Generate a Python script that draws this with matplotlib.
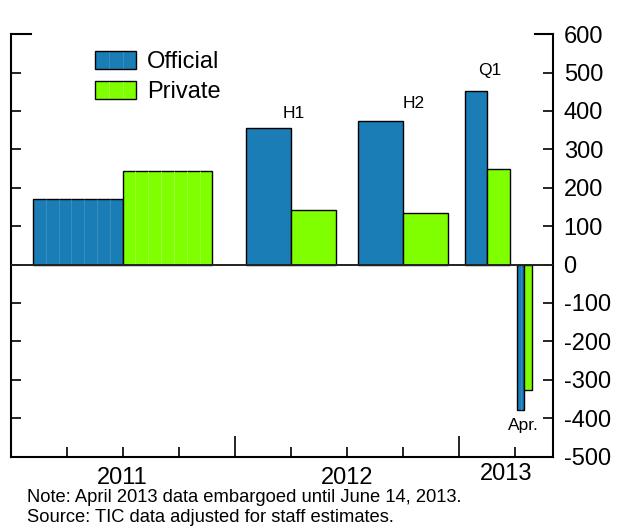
import matplotlib
matplotlib.use("Agg")
import matplotlib.pyplot as plt
from matplotlib.patches import Rectangle
from matplotlib.lines import Line2D
from matplotlib.legend_handler import HandlerPatch
import matplotlib.transforms as mtransforms

plt.rcParams["font.family"] = ["Liberation Sans", "DejaVu Sans"]
plt.rcParams["axes.unicode_minus"] = False

# periods on a month axis (Jan 2011 = 0): start month, length in months
period_start = [0, 12, 18, 24, 27]
period_len = [12, 6, 6, 3, 1]
period_labels = ["", "H1", "H2", "Q1", "Apr."]
official = [170, 356, 373, 453, -378]
private = [243, 143, 134, 248, -326]

years = ["2011", "2012", "2013"]
year_centers = [6, 18, 26.5]

BLUE = "#1a7db5"
GREEN = "#80ff00"
BLUE_LINE = "#3b8fc2"
GREEN_LINE = "#a2ff48"

W, H = 621, 529
fig = plt.figure(figsize=(W / 100, H / 100), dpi=100)
ax = fig.add_axes([10.5 / W, 1 - 456.5 / H, 542 / W, 422.4 / H])

ax.set_xlim(0, 29)
ax.set_ylim(-500, 600)


def draw_bar(x0, width, value, color, line_color, n_split):
    ax.bar(x0, value, width=width, align="edge", color=color,
           edgecolor="black", linewidth=1.0, zorder=3)
    if n_split > 1:
        xs = [x0 + width * k / n_split for k in range(1, n_split)]
        ax.vlines(xs, 0, value, colors=line_color, linewidth=0.6, zorder=3.5)


for i in range(len(period_start)):
    w = 0.4 * period_len[i]
    mid = period_start[i] + period_len[i] / 2
    split_o = 7 if i == 0 else (2 if i == 4 else 1)
    split_p = 7 if i == 0 else 1
    draw_bar(mid - w, w, official[i], BLUE, BLUE_LINE, split_o)
    draw_bar(mid, w, private[i], GREEN, GREEN_LINE, split_p)

# period labels
label_pos = [None, (15.17, 393), (21.57, 418), (25.64, 504), (27.45, -420)]
for lab, pos in zip(period_labels, label_pos):
    if pos is not None:
        ax.text(pos[0], pos[1], lab, ha="center", va="center", fontsize=12.5)

ax.axhline(0, color="#222222", linewidth=1.4, zorder=4)

# frame
ax.spines["top"].set_visible(False)
for s in ["left", "right", "bottom"]:
    ax.spines[s].set_linewidth(1.5)
ax.add_line(Line2D([0, 0.037], [1, 1], transform=ax.transAxes, color="black",
                   lw=1.5, clip_on=False))
ax.add_line(Line2D([0.967, 1], [1, 1], transform=ax.transAxes, color="black",
                   lw=1.5, clip_on=False))

ax.set_yticks(range(-500, 601, 100))
ax.tick_params(axis="y", direction="in", left=True, right=True,
               labelleft=False, labelright=True, length=7, width=1.2,
               labelsize=17, pad=8)

ax.set_xticks([0, 12, 24, 29])
ax.set_xticks([3, 6, 9, 15, 18, 21, 27], minor=True)
ax.tick_params(axis="x", which="major", direction="in", length=15, width=1.2,
               labelbottom=False)
ax.tick_params(axis="x", which="minor", direction="in", length=7, width=1.2)

trans = mtransforms.blended_transform_factory(ax.transData, ax.transAxes)
year_y = [-0.051, -0.051, -0.041]
for lab, xc, yy in zip(years, year_centers, year_y):
    ax.text(xc, yy, lab, transform=trans, ha="center", va="center", fontsize=17)


class SplitHandler(HandlerPatch):
    def create_artists(self, legend, orig_handle, xdescent, ydescent,
                       width, height, fontsize, trans):
        x0, y0 = -xdescent, -ydescent
        arts = [Rectangle((x0, y0), width, height,
                          facecolor=orig_handle.get_facecolor(),
                          edgecolor="black", lw=1.0, transform=trans)]
        for k in (1, 2):
            xx = x0 + width * k / 3
            arts.append(Line2D([xx, xx], [y0 + 1, y0 + height - 1],
                               color=orig_handle.get_edgecolor(), lw=0.6,
                               transform=trans))
        return arts


h1 = Rectangle((0, 0), 1, 1, facecolor=BLUE, edgecolor=BLUE_LINE)
h2 = Rectangle((0, 0), 1, 1, facecolor=GREEN, edgecolor=GREEN_LINE)
fig.legend([h1, h2], ["Official", "Private"], loc="upper left",
           bbox_to_anchor=(95 / W, 1 - 51 / H), frameon=False, fontsize=17,
           borderpad=0, borderaxespad=0, handlelength=1.75, handleheight=0.8,
           handletextpad=0.45, labelspacing=0.32,
           handler_map={Rectangle: SplitHandler()})

fig.text(27 / W, 1 - 497 / H, "Note: April 2013 data embargoed until June 14, 2013.",
         fontsize=13.2, va="center", ha="left")
fig.text(27 / W, 1 - 517 / H, "Source: TIC data adjusted for staff estimates.",
         fontsize=13.2, va="center", ha="left")

fig.savefig("out.png", dpi=100)
